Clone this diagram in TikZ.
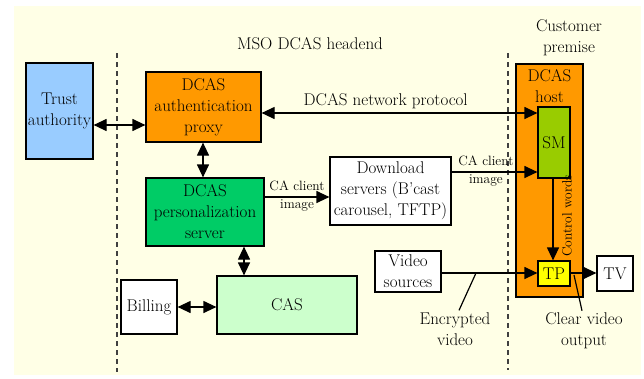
\documentclass[tikz,border=0pt]{standalone}
\usetikzlibrary{arrows.meta, positioning}
\definecolor{BgYellow}{HTML}{FFFFE6}
\definecolor{TrustBlue}{HTML}{99CCFF}
\definecolor{ProxyOrange}{HTML}{FF9900}
\definecolor{PersGreen}{HTML}{00CC66}
\definecolor{CasGreen}{HTML}{CCFFCC}
\definecolor{SmGreen}{HTML}{99CC00}
\definecolor{TpYellow}{HTML}{FFFF00}

\begin{document}
\begin{tikzpicture}[
    x=1pt, y=-1pt,
    >={Triangle[length=13pt,width=12pt]},
    font=\fontsize{17}{21}\selectfont,
    blk/.style={draw=black, line width=1.2pt, inner sep=0pt, align=center},
    every edge/.style={draw=black, line width=1.2pt},
    lbl/.style={font=\fontsize{13.5}{18}\selectfont, inner sep=0pt, align=center},
    note/.style={inner sep=2pt, align=center},
    divider/.style={draw=black!75, line width=1.2pt, dash pattern=on 5pt off 4pt}
]
\useasboundingbox (0,0) rectangle (644,378);
\fill[BgYellow] (14,6) rectangle (641,375);

% region dividers
\draw[divider] (117,53) -- (117,372);
\draw[divider] (508,53) -- (508,370);

\node (headend) at (310,44) {MSO DCAS headend};
\node[align=center, inner sep=0pt] (premise) at (569,38) {Customer\\premise};

% headend blocks
\node[blk, fill=TrustBlue, minimum width=67pt, minimum height=96pt] (trust) at (59.5,111) {Trust\\authority};
\node[blk, fill=ProxyOrange, minimum width=115pt, minimum height=70pt] (proxy) at (203.5,107) {DCAS\\authentication\\proxy};
\node[blk, fill=PersGreen, minimum width=118pt, minimum height=68pt] (pers) at (205,212) {DCAS\\personalization\\server};
\node[blk, fill=CasGreen, minimum width=140pt, minimum height=58pt] (cas) at (287,305) {CAS};
\node[blk, fill=white, minimum width=56pt, minimum height=54pt] (billing) at (149,307) {Billing};
\node[blk, fill=white, minimum width=121pt, minimum height=68pt] (dl) at (390.5,191) {Download\\servers (B'cast\\carousel, TFTP)};
\node[blk, fill=white, minimum width=66pt, minimum height=41pt] (video) at (408,271.5) {Video\\sources};

% customer premise
\node[blk, fill=ProxyOrange, minimum width=67pt, minimum height=233pt,
      label={[anchor=north, inner sep=0pt, align=center, yshift=-6pt]north:DCAS\\host}] (host) at (549.5,180.5) {};
\node[blk, fill=SmGreen, minimum width=32pt, minimum height=71pt] (sm) at (554,142.5) {SM};
\node[blk, fill=TpYellow, minimum width=32pt, minimum height=25pt] (tp) at (554,273.5) {TP};
\node[blk, fill=white, minimum width=36pt, minimum height=35pt] (tv) at (615,273.5) {TV};
\node[lbl, rotate=90] (cw) at (567,216) {Control words};

% connections
\path (trust.east |- 0,125) edge[<->] (proxy.west |- 0,125);
\path (proxy.south -| 203,0) edge[<->] (pers.north -| 203,0);
\path (pers.south -| 244,0) edge[<->] (cas.north -| 244,0);
\path (billing.east |- 0,307) edge[<->] (cas.west |- 0,307);
\path (proxy.east |- 0,113) edge[<->] node[pos=0.45, above=4pt, inner sep=0pt] {DCAS network protocol} (sm.west |- 0,113);
\path (pers.east |- 0,197) edge[->] node[lbl, midway, yshift=1pt] {CA client\\image} (dl.west |- 0,197);
\path (dl.east |- 0,172) edge[->] node[lbl, pos=0.4, yshift=1pt] {CA client\\image} (sm.west |- 0,172);
\path (sm.south -| 553,0) edge[->] (tp.north -| 553,0);
\path (video.east |- 0,273) edge[->] (tp.west |- 0,273);
\path (tp.east |- 0,273) edge[->] (tv.west |- 0,273);

% callouts
\coordinate (encpt) at (476,273);
\coordinate (clrpt) at (574,275);
\node[note] (enc) at (455,329) {Encrypted\\video};
\node[note] (clr) at (584,331) {Clear video\\output};
\draw[line width=1.2pt] (encpt) -- ([xshift=4pt]enc.north);
\draw[line width=1.2pt] (clrpt) -- ([xshift=-2pt]clr.north);
\end{tikzpicture}
\end{document}
